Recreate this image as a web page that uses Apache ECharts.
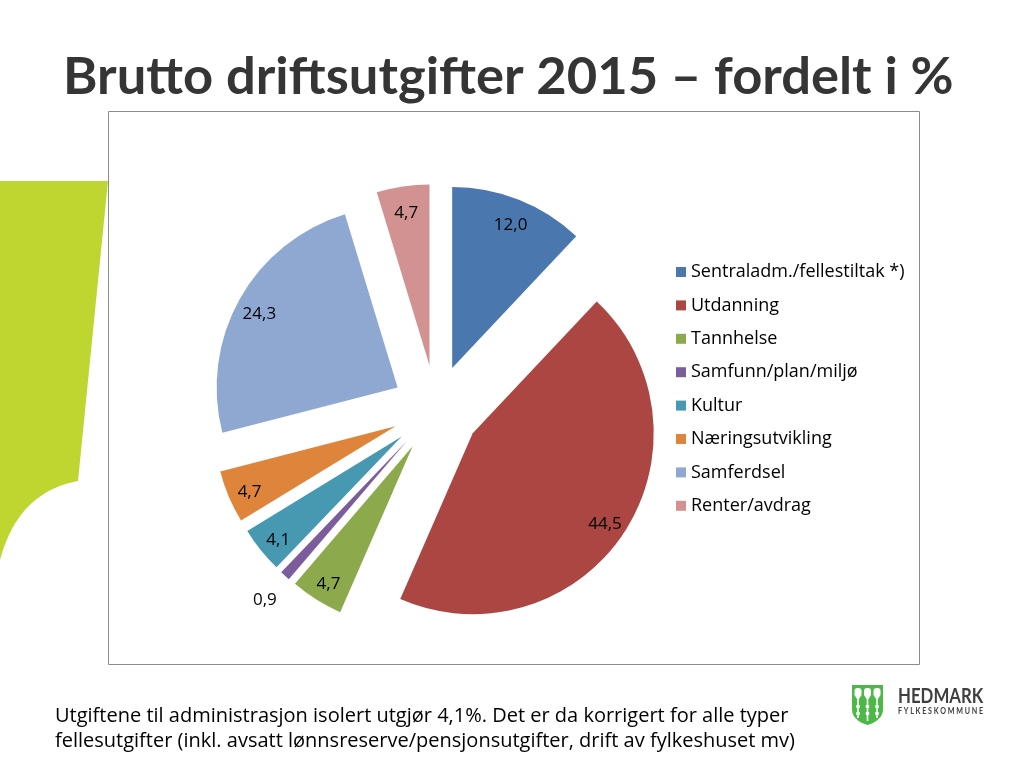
<!DOCTYPE html>
<html>
<head>
<meta charset="utf-8">
<script src="https://cdn.jsdelivr.net/npm/echarts@6/dist/echarts.min.js"></script>
<style>
  html, body { margin: 0; padding: 0; background: #fff; }
  #main { width: 1024px; height: 768px; }
</style>
</head>
<body>
<div id="main"></div>
<script>
// kategorier og andeler (%)
var categories = ['Sentraladm./fellestiltak *)', 'Utdanning', 'Tannhelse', 'Samfunn/plan/miljø',
  'Kultur', 'Næringsutvikling', 'Samferdsel', 'Renter/avdrag'];
var shares = [12.0, 44.5, 4.7, 0.9, 4.1, 4.7, 24.3, 4.7];
var colors = ['#4A77AE', '#AB4642', '#8CAA4C', '#7B5D9B', '#4799B1', '#DF843B', '#8FA8D2', '#D39292'];

var TITLE_FONT = 'Lato, "Open Sans", sans-serif';
var FONT = '"Open Sans", Lato, sans-serif';

function fmt(v) {
  return v.toFixed(1).replace('.', ',');
}

// kvadratisk kurve som punktliste (til polygoner)
function quad(p0, c, p1, n) {
  var pts = [];
  for (var k = 1; k <= n; k++) {
    var t = k / n, u = 1 - t;
    pts.push([u * u * p0[0] + 2 * u * t * c[0] + t * t * p1[0],
              u * u * p0[1] + 2 * u * t * c[1] + t * t * p1[1]]);
  }
  return pts;
}

var greenPts = [[0, 181], [108, 181], [78, 481]].concat(quad([78, 481], [18, 492], [0, 560], 20));
var shieldPts = [[0, 0], [31, 0], [31, 24]]
  .concat(quad([31, 24], [31, 35], [15.5, 40], 8))
  .concat(quad([15.5, 40], [0, 35], [0, 24], 8));

// hovedserien: sektorene, bare den minste har etikett utenfor
var pieData = [];
var labelData = [];
for (var i = 0; i < categories.length; i++) {
  var small = shares[i] < 1;
  pieData.push({
    name: categories[i],
    value: shares[i],
    selected: true,
    label: { show: small }
  });
  labelData.push({
    name: categories[i],
    value: shares[i],
    selected: true,
    label: { show: !small }
  });
}

var chart = echarts.init(document.getElementById('main'), null, { renderer: 'canvas' });

var towers = [];
for (var j = 0; j < 3; j++) {
  var tx = 2.5 + j * 9.5;
  towers.push({ type: 'rect', shape: { x: tx, y: 3, width: 7, height: 7, r: [3, 3, 0, 0] }, style: { fill: '#fff' } });
  towers.push({ type: 'polygon', shape: { points: [[tx, 10], [tx + 7, 10], [tx + 4.5, 14], [tx + 2.5, 14]] }, style: { fill: '#fff' } });
  towers.push({ type: 'rect', shape: { x: tx + 2.7, y: 14, width: 1.6, height: j === 1 ? 22 : 19 }, style: { fill: '#fff' } });
  towers.push({ type: 'rect', shape: { x: tx + 1.8, y: 20, width: 3.4, height: 3 }, style: { fill: '#fff' } });
  towers.push({ type: 'rect', shape: { x: tx + 1.8, y: 27, width: 3.4, height: 3 }, style: { fill: '#fff' } });
}

chart.setOption({
  animation: false,
  color: colors,
  legend: {
    orient: 'vertical',
    left: 671,
    top: 257,
    icon: 'rect',
    itemWidth: 10,
    itemHeight: 10,
    itemGap: 13.4,
    selectedMode: false,
    data: categories,
    textStyle: { fontFamily: FONT, fontSize: 18, color: '#000', lineHeight: 20 }
  },
  graphic: [
    // grønn flate til venstre
    {
      type: 'polygon',
      shape: { points: greenPts },
      style: { fill: '#BED62F' },
      z: 0
    },
    // ramme rundt diagrammet
    {
      type: 'rect',
      shape: { x: 108.5, y: 111.5, width: 811, height: 553 },
      style: { fill: '#fff', stroke: '#8c8c8c', lineWidth: 1 },
      z: 1
    },
    {
      type: 'text',
      left: 63,
      top: 51,
      style: {
        text: 'Brutto driftsutgifter 2015 – fordelt i %',
        font: 'bold 52.5px ' + TITLE_FONT,
        fill: '#353535'
      },
      z: 5
    },
    {
      type: 'text',
      left: 55,
      top: 704,
      style: {
        text: 'Utgiftene til administrasjon isolert utgjør 4,1%. Det er da korrigert for alle typer\nfellesutgifter (inkl. avsatt lønnsreserve/pensjonsutgifter, drift av fylkeshuset mv)',
        font: '20px ' + FONT,
        lineHeight: 25,
        fill: '#000'
      },
      z: 5
    },
    // logo
    {
      type: 'group',
      x: 852,
      y: 685,
      z: 5,
      children: [{ type: 'polygon', shape: { points: shieldPts }, style: { fill: '#4DB848' } }].concat(towers)
    },
    {
      type: 'text',
      x: 898,
      y: 687,
      scaleX: 0.84,
      style: { text: 'HEDMARK', font: 'bold 20px ' + TITLE_FONT, fill: '#404040' },
      z: 5
    },
    {
      type: 'text',
      x: 898,
      y: 707,
      scaleX: 0.84,
      style: { text: 'F Y L K E S K O M M U N E', font: 'bold 8.5px ' + TITLE_FONT, fill: '#404040' },
      z: 5
    }
  ],
  series: [
    {
      type: 'pie',
      center: [436, 409],
      radius: [0, 181],
      startAngle: 90,
      selectedMode: 'multiple',
      selectedOffset: 44,
      silent: true,
      z: 3,
      itemStyle: { borderWidth: 0 },
      label: {
        position: 'outside',
        fontFamily: FONT,
        fontSize: 17,
        color: '#000',
        distanceToLabelLine: -14,
        formatter: function (p) { return fmt(p.value); }
      },
      labelLine: { show: false, length: 33, length2: 0 },
      data: pieData
    },
    {
      // usynlig serie som plasserer etikettene ytterst i sektorene
      type: 'pie',
      center: [436, 413],
      radius: [130, 181],
      startAngle: 90,
      selectedMode: 'multiple',
      selectedOffset: 44,
      silent: true,
      z: 4,
      itemStyle: { color: 'rgba(0,0,0,0)', borderWidth: 0 },
      label: {
        position: 'inside',
        fontFamily: FONT,
        fontSize: 17,
        color: '#000',
        formatter: function (p) { return fmt(p.value); }
      },
      labelLine: { show: false },
      data: labelData
    }
  ]
});
</script>
</body>
</html>
